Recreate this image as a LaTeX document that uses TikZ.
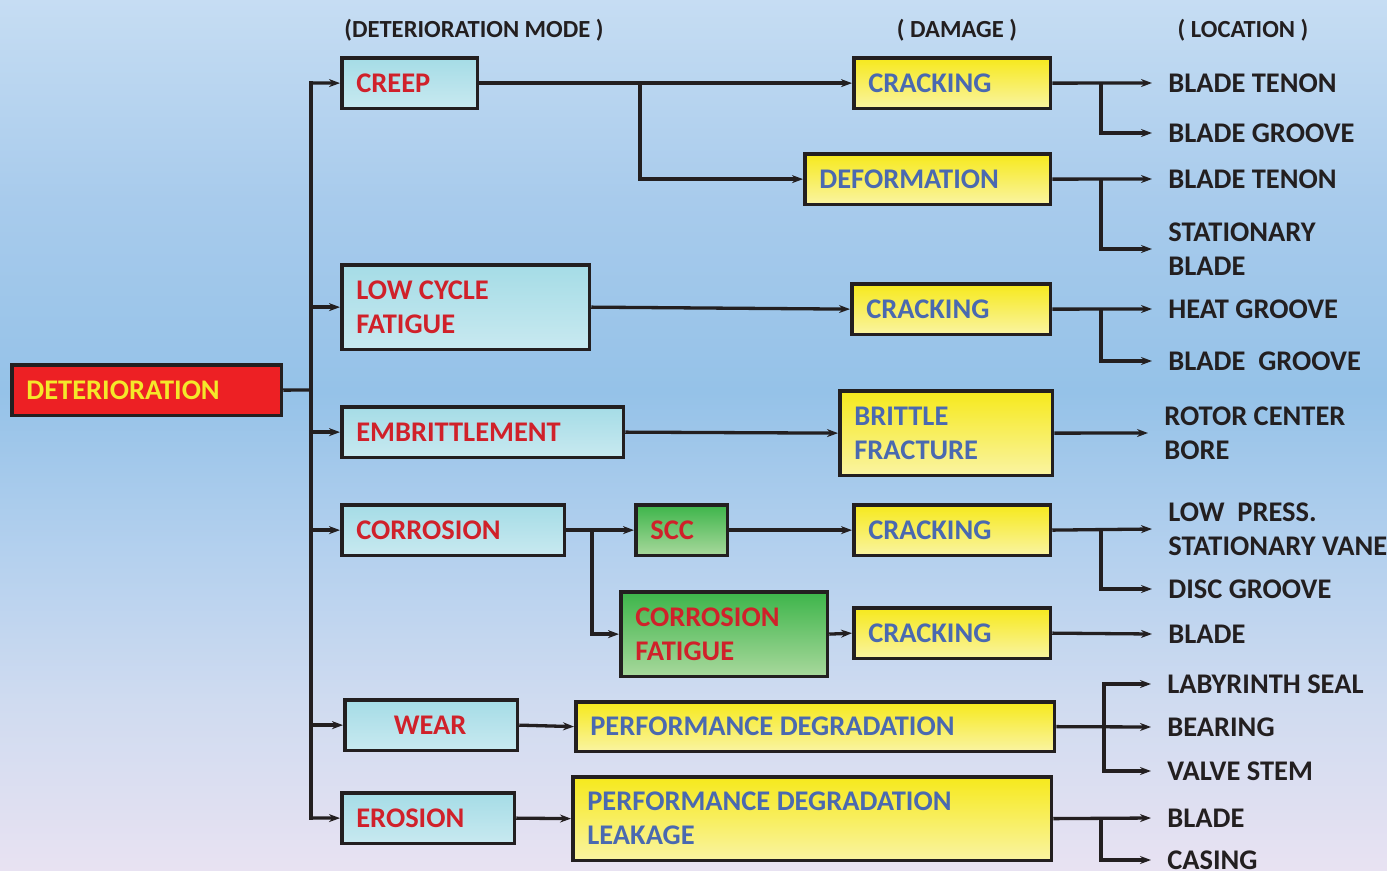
\documentclass[tikz,border=0pt]{standalone}
\usepackage{fontspec}
\setmainfont{Carlito}
\usetikzlibrary{arrows.meta}
\definecolor{bgA}{HTML}{E8E2F2}
\definecolor{bgB}{HTML}{CFDBF0}
\definecolor{bgC}{HTML}{B3D0EE}
\definecolor{bgD}{HTML}{95C2E8}
\definecolor{bgE}{HTML}{A8CBEC}
\definecolor{bgF}{HTML}{C6DDF3}
\definecolor{edge}{HTML}{231F20}
\definecolor{cyT}{HTML}{A5DCE6}
\definecolor{cyB}{HTML}{C8E9F0}
\definecolor{yeT}{HTML}{F6E91C}
\definecolor{yeB}{HTML}{FAF4A2}
\definecolor{grT}{HTML}{3DB54A}
\definecolor{grB}{HTML}{A8D89C}
\definecolor{redF}{HTML}{ED2024}
\definecolor{redT}{HTML}{D0212A}
\definecolor{blueT}{HTML}{4A69B0}
\definecolor{yelT}{HTML}{F4E82A}
\definecolor{darkT}{HTML}{231F20}
\pgfdeclareverticalshading{bgshade}{100bp}{color(0bp)=(bgA); color(25bp)=(bgA); color(34.75bp)=(bgB); color(43.5bp)=(bgC); color(52.5bp)=(bgD); color(63.5bp)=(bgE); color(75bp)=(bgF); color(100bp)=(bgF)}
\newcommand\bx[8]{%
\node[#6, minimum width={(#4-#2-3.5)*0.02cm}, minimum height={(#5-#3-3.5)*0.02cm}, anchor=north west] (#1) at (#2,#3) {};
\node[#7] (#1t) at ([xshift=0.32cm]#1.west) {#8};}
\begin{document}
\begin{tikzpicture}[x=0.02cm,y=-0.02cm,
  box/.style={draw=edge, line width=0.075cm},
  cyanbox/.style={box, top color=cyT, bottom color=cyB},
  yelbox/.style={box, top color=yeT, bottom color=yeB},
  grnbox/.style={box, top color=grT, bottom color=grB},
  redbox/.style={box, fill=redF},
  txt/.style={anchor=west, inner sep=0pt, align=left, font=\bfseries\fontsize{16.2}{19.3}\selectfont},
  rtxt/.style={txt, text=redT},
  btxt/.style={txt, text=blueT},
  ytxt/.style={txt, text=yelT},
  loc/.style={anchor=west, inner xsep=0.32cm, inner ysep=0pt, align=left, text=darkT, font=\bfseries\fontsize{16.2}{19.3}\selectfont},
  hdr/.style={text=darkT, inner sep=0pt, font=\bfseries\fontsize{14}{16}\selectfont},
  ln/.style={line width=0.066cm, draw=edge},
  arr/.style={ln, -{Stealth[length=0.22cm,width=0.16cm]}}
]
\shade[shading=bgshade] (0,0) rectangle (1387,870);
\useasboundingbox (0,0) rectangle (1387,870);

% headers
\node[hdr] (h1) at (474,30) {(DETERIORATION MODE )};
\node[hdr] (h2) at (957,30) {( DAMAGE )};
\node[hdr] (h3) at (1243,30) {( LOCATION )};

% boxes
\bx{det}{10}{363}{283}{417}{redbox}{ytxt}{DETERIORATION}
\bx{creep}{340}{56}{479}{110}{cyanbox}{rtxt}{CREEP}
\bx{lcf}{340}{263}{591}{351}{cyanbox}{rtxt}{LOW CYCLE\\FATIGUE}
\bx{emb}{340}{405}{625}{459}{cyanbox}{rtxt}{EMBRITTLEMENT}
\bx{cor}{340}{503}{566}{557}{cyanbox}{rtxt}{CORROSION}
\node[cyanbox, minimum width={(519-343-3.5)*0.02cm}, minimum height={(752-698-3.5)*0.02cm}, anchor=north west] (wear) at (343,698) {};
\node[rtxt, anchor=center] (weart) at ([xshift=-0.02cm]wear.center) {WEAR};
\bx{ero}{340}{791}{516}{845}{cyanbox}{rtxt}{EROSION}
\bx{crk1}{852}{56}{1052}{110}{yelbox}{btxt}{CRACKING}
\bx{def}{803}{152}{1052}{206}{yelbox}{btxt}{DEFORMATION}
\bx{crk2}{850}{282}{1052}{336}{yelbox}{btxt}{CRACKING}
\bx{brf}{838}{389}{1054}{477}{yelbox}{btxt}{BRITTLE\\FRACTURE}
\bx{scc}{634}{503}{729}{557}{grnbox}{rtxt}{SCC}
\bx{crk3}{852}{503}{1052}{557}{yelbox}{btxt}{CRACKING}
\bx{cf}{619}{590}{829}{678}{grnbox}{rtxt}{CORROSION\\FATIGUE}
\bx{crk4}{852}{606}{1052}{660}{yelbox}{btxt}{CRACKING}
\bx{pd}{574}{700}{1056}{753}{yelbox}{btxt}{PERFORMANCE DEGRADATION}
\bx{pdl}{571}{775}{1053}{862}{yelbox}{btxt}{PERFORMANCE DEGRADATION\\LEAKAGE}

% location labels
\node[loc] (l1) at (1152,83) {BLADE TENON};
\node[loc] (l2) at (1152,133) {BLADE GROOVE};
\node[loc] (l3) at (1152,179) {BLADE TENON};
\node[loc] (l4) at (1152,249) {STATIONARY\\BLADE};
\node[loc] (l5) at (1152,309) {HEAT GROOVE};
\node[loc] (l6) at (1152,361) {BLADE\ \ GROOVE};
\node[loc] (l7) at (1148,433) {ROTOR CENTER\\BORE};
\node[loc] (l8) at (1152,529) {LOW\ \ PRESS.\\STATIONARY VANE};
\node[loc] (l9) at (1152,589) {DISC GROOVE};
\node[loc] (l10) at (1152,634) {BLADE};
\node[loc] (l11) at (1151,684) {LABYRINTH SEAL};
\node[loc] (l12) at (1151,727) {BEARING};
\node[loc] (l13) at (1151,771) {VALVE STEM};
\node[loc] (l14) at (1151,818) {BLADE};
\node[loc] (l15) at (1151,860) {CASING};

% trunk
\coordinate (t0) at (311,390);
\coordinate (t1) at (311,83);
\coordinate (t7) at (311,818);
\draw[ln] (det.east) -- (t0);
\draw[ln, line cap=rect] (t1) -- (t7);
\draw[arr] (t1) -- (creep.west);
\draw[arr] (t1 |- lcf.west) -- (lcf.west);
\draw[arr] (t1 |- emb.west) -- (emb.west);
\draw[arr] (t1 |- cor.west) -- (cor.west);
\draw[arr] (t1 |- wear.west) -- (wear.west);
\draw[arr] (t7) -- (ero.west);

% mode -> damage
\coordinate (b1) at (640,83);
\draw[arr] (creep.east) -- (crk1.west);
\draw[arr] (b1) |- (def.west);
\draw[arr] (lcf.east) -- (crk2.west);
\draw[arr] (emb.east) -- (brf.west);
\coordinate (b2) at (592,530);
\draw[arr] (cor.east) -- (scc.west);
\draw[arr] (b2) |- (cf.west);
\draw[arr] (scc.east) -- (crk3.west);
\draw[arr] (cf.east) -- (crk4.west);
\draw[arr] (wear.east) -- (pd.west);
\draw[arr] (ero.east) -- (pdl.west);

% damage -> location
\coordinate (k1) at (1101,83);
\draw[arr] (crk1.east) -- (l1.west);
\draw[arr] (k1) |- (l2.west);
\coordinate (k2) at (1101,179);
\draw[arr] (def.east) -- (l3.west);
\draw[arr] (k2) |- (l4.west);
\coordinate (k3) at (1101,309);
\draw[arr] (crk2.east) -- (l5.west);
\draw[arr] (k3) |- (l6.west);
\draw[arr] (brf.east) -- (l7.west);
\coordinate (k4) at (1101,530);
\draw[arr] (crk3.east) -- (l8.west);
\draw[arr] (k4) |- (l9.west);
\draw[arr] (crk4.east) -- (l10.west);
\coordinate (k5) at (1104,727);
\draw[arr] (pd.east) -- (l12.west);
\draw[arr] (k5) |- (l11.west);
\draw[arr] (k5) |- (l13.west);
\coordinate (k6) at (1101,818);
\draw[arr] (pdl.east) -- (l14.west);
\draw[arr] (k6) |- (l15.west);
\end{tikzpicture}
\end{document}
